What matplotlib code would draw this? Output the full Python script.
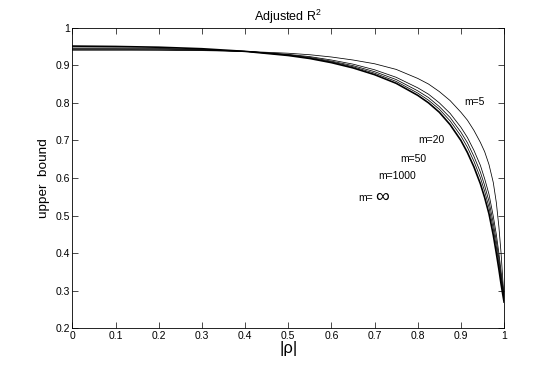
import matplotlib
matplotlib.use("Agg")
import matplotlib.pyplot as plt

plt.rcParams['font.family'] = ['Liberation Sans', 'DejaVu Sans']
plt.rcParams['mathtext.fontset'] = 'custom'
plt.rcParams['mathtext.rm'] = 'Liberation Sans'
plt.rcParams['mathtext.it'] = 'Liberation Sans'

# |rho| sample points
rho = [0, 0.1, 0.2, 0.3, 0.4, 0.5, 0.55, 0.6, 0.65, 0.7, 0.75, 0.8, 0.825, 0.85,
       0.875, 0.9, 0.915, 0.93, 0.945, 0.955, 0.965, 0.975, 0.982, 0.988,
       0.993, 0.997, 1.0]

bound_m5 = [0.940, 0.940, 0.940, 0.939, 0.937, 0.932, 0.928, 0.922, 0.914, 0.904,
            0.889, 0.865, 0.850, 0.830, 0.806, 0.775, 0.754, 0.727, 0.695, 0.670,
            0.636, 0.588, 0.535, 0.470, 0.400, 0.330, 0.285]
bound_m20 = [0.942, 0.942, 0.941, 0.940, 0.937, 0.929, 0.923, 0.914, 0.903, 0.888,
             0.868, 0.840, 0.823, 0.800, 0.772, 0.735, 0.708, 0.674, 0.634, 0.598,
             0.557, 0.498, 0.450, 0.400, 0.352, 0.313, 0.285]
bound_m50 = [0.944, 0.944, 0.943, 0.941, 0.937, 0.928, 0.921, 0.911, 0.899, 0.883,
             0.862, 0.832, 0.814, 0.790, 0.761, 0.722, 0.694, 0.658, 0.616, 0.580,
             0.538, 0.480, 0.432, 0.385, 0.340, 0.305, 0.280]
bound_m1000 = [0.946, 0.946, 0.945, 0.942, 0.937, 0.927, 0.919, 0.909, 0.896, 0.879,
               0.857, 0.826, 0.807, 0.783, 0.752, 0.712, 0.682, 0.645, 0.601, 0.565,
               0.522, 0.465, 0.417, 0.372, 0.330, 0.298, 0.275]
bound_inf = [0.951, 0.950, 0.948, 0.944, 0.937, 0.926, 0.918, 0.907, 0.893, 0.875,
             0.852, 0.820, 0.800, 0.775, 0.742, 0.700, 0.668, 0.630, 0.585, 0.548,
             0.505, 0.448, 0.400, 0.357, 0.318, 0.290, 0.270]

labels = ['m=5', 'm=20', 'm=50', 'm=1000']
label_x = [0.908, 0.801, 0.760, 0.709]
label_y = [0.803, 0.702, 0.651, 0.605]

xticks = [0, 0.1, 0.2, 0.3, 0.4, 0.5, 0.6, 0.7, 0.8, 0.9, 1]
yticks = [0.2, 0.3, 0.4, 0.5, 0.6, 0.7, 0.8, 0.9, 1]

fig = plt.figure(figsize=(5.57, 3.69), dpi=100)
ax = fig.add_axes([0.13, 0.11, 0.775, 0.815])

for b in [bound_m5, bound_m20, bound_m50, bound_m1000]:
    ax.plot(rho, b, color='k', linewidth=0.55)
ax.plot(rho, bound_inf, color='k', linewidth=1.2)

for lab, lx, ly in zip(labels, label_x, label_y):
    ax.text(lx, ly, lab, fontsize=7.5, ha='left', va='center')
ax.text(0.663, 0.548, 'm=', fontsize=7.5, ha='left', va='center')
ax.text(0.702, 0.549, '\u221e', fontsize=14, ha='left', va='center')

ax.set_xlim(0, 1)
ax.set_ylim(0.2, 1)
ax.set_xticks(xticks)
ax.set_yticks(yticks)
ax.set_xticklabels(['%g' % t for t in xticks])
ax.set_yticklabels(['%g' % t for t in yticks])
ax.tick_params(direction='in', length=4, width=0.5, labelsize=7.5,
               top=True, right=True, pad=2)
for s in ax.spines.values():
    s.set_linewidth(0.6)

ax.set_title(r'Adjusted R$^2$', fontsize=9, pad=5)
ax.set_xlabel('|\u03c1|', fontsize=12, labelpad=0)
ax.set_ylabel('upper  bound', fontsize=9.7, labelpad=4)

fig.savefig('out.png', dpi=100)
